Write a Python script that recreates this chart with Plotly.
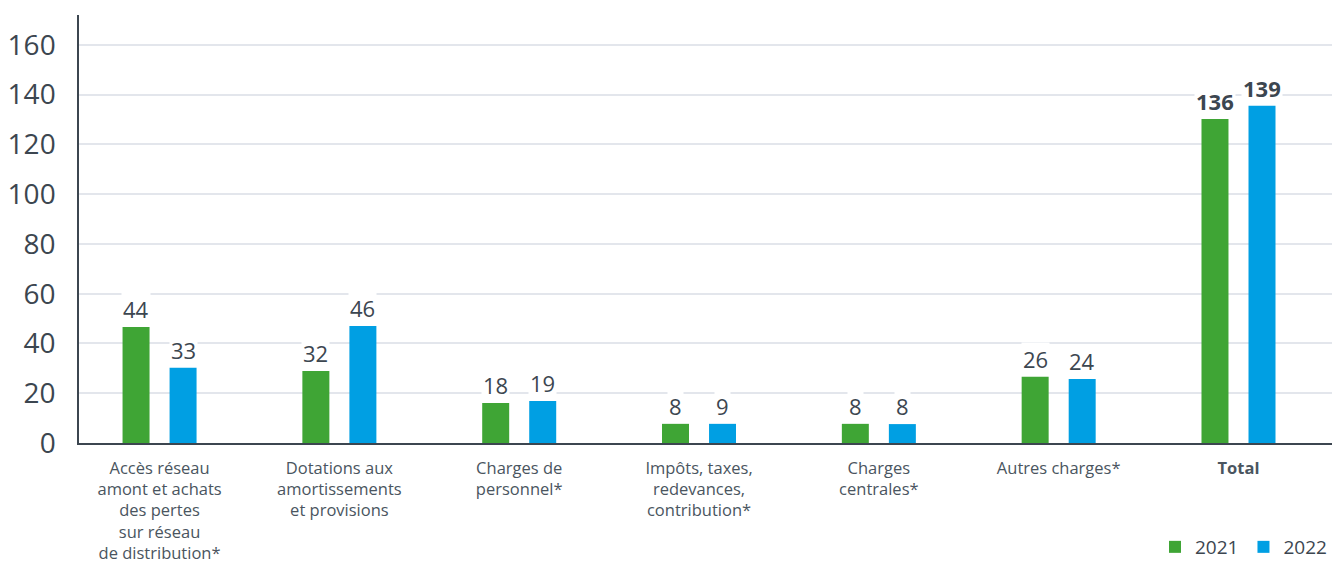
import plotly.graph_objects as go

categories = [
    "Accès réseau<br>amont et achats<br>des pertes<br>sur réseau<br>de distribution*",
    "Dotations aux<br>amortissements<br>et provisions",
    "Charges de<br>personnel*",
    "Impôts, taxes,<br>redevances,<br>contribution*",
    "Charges<br>centrales*",
    "Autres charges*",
    "<b>Total</b>",
]
# bar heights as drawn in the picture
heights_2021 = [46.6, 28.9, 16.1, 7.7, 7.7, 26.6, 130.2]
heights_2022 = [30.2, 47.0, 16.9, 7.7, 7.6, 25.7, 135.5]
# value labels as printed
labels_2021 = ["44", "32", "18", "8", "8", "26", "<b>136</b>"]
labels_2022 = ["33", "46", "19", "9", "8", "24", "<b>139</b>"]
y_ticks = [0, 20, 40, 60, 80, 100, 120, 140, 160]

GREEN = "#3fa535"
BLUE = "#009fe3"
TXT = "#3c4650"
FONT = "Open Sans"

fig = go.Figure()
fig.add_trace(go.Bar(x=categories, y=heights_2021, name="2021", marker_color=GREEN,
                     marker_line_width=0))
fig.add_trace(go.Bar(x=categories, y=heights_2022, name="2022", marker_color=BLUE,
                     marker_line_width=0))

annotations = []
for cat, h, lab in zip(categories, heights_2021, labels_2021):
    annotations.append(dict(x=cat, y=h, text=lab, xref="x", yref="y", showarrow=False,
                            yanchor="bottom", xshift=-23.5, yshift=1, bgcolor="white",
                            borderpad=1, font=dict(family=FONT, size=22, color=TXT)))
for cat, h, lab in zip(categories, heights_2022, labels_2022):
    annotations.append(dict(x=cat, y=h, text=lab, xref="x", yref="y", showarrow=False,
                            yanchor="bottom", xshift=23.5, yshift=1, bgcolor="white",
                            borderpad=1, font=dict(family=FONT, size=22, color=TXT)))

fig.update_layout(
    width=1332, height=566,
    margin=dict(l=79, r=0, t=15, b=123),
    paper_bgcolor="white", plot_bgcolor="white",
    barmode="group", bargap=0.477, bargroupgap=0.426,
    font=dict(family=FONT, color=TXT),
    annotations=annotations,
    showlegend=True,
    legend=dict(orientation="h", x=1, xanchor="right", y=-0.243, yanchor="middle",
                font=dict(family=FONT, size=19, color=TXT), itemwidth=30,
                traceorder="normal", bgcolor="rgba(0,0,0,0)"),
)
fig.update_xaxes(type="category", range=[-0.448, 6.52], showline=True, linecolor=TXT,
                 linewidth=1.5, showgrid=False, ticks="", ticklabelstandoff=9,
                 automargin=False,
                 tickfont=dict(family=FONT, size=16.5, color="#4a5560"), tickangle=0)
fig.update_yaxes(range=[0, 172], tickvals=y_ticks, showline=True, linecolor=TXT,
                 linewidth=1.5, showgrid=True, gridcolor="#e3e6ec", gridwidth=2,
                 zeroline=False, ticks="", ticklabelstandoff=16, automargin=False,
                 tickfont=dict(family=FONT, size=28, color=TXT))

fig.write_html("out.html")
